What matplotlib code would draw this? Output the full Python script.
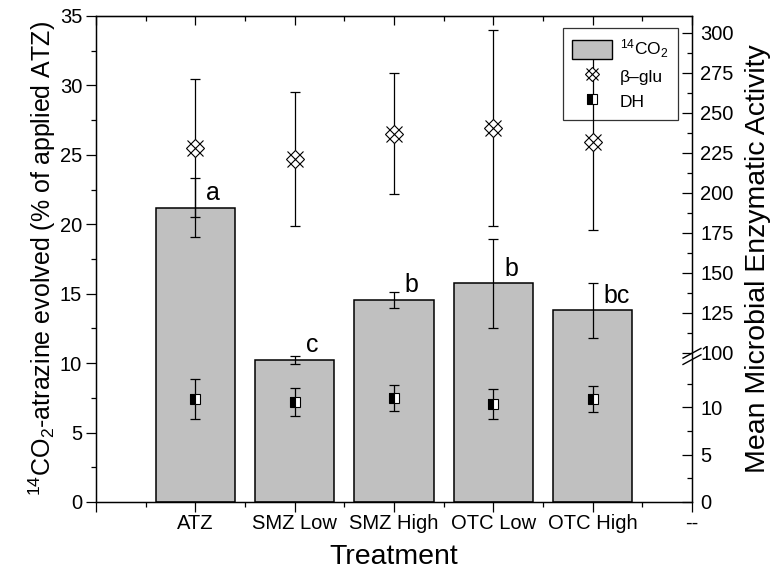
import matplotlib
matplotlib.use("Agg")
import matplotlib.pyplot as plt
import numpy as np
from matplotlib.legend_handler import HandlerTuple
from matplotlib.lines import Line2D
from matplotlib.patches import Patch

# data
treatments = ["ATZ", "SMZ Low", "SMZ High", "OTC Low", "OTC High"]
co2 = [21.2, 10.23, 14.55, 15.75, 13.8]
co2_err = [2.14, 0.28, 0.58, 3.22, 2.0]
letters = ["a", "c", "b", "b", "bc"]
bglu = [228, 221, 237, 240.5, 231.5]
bglu_err = [43, 42, 37.5, 61, 54.5]
dh = [10.87, 10.55, 10.97, 10.37, 10.87]
dh_err = [2.1, 1.47, 1.35, 1.6, 1.4]

plt.rcParams["font.family"] = ["Liberation Sans", "DejaVu Sans"]
plt.rcParams["mathtext.fontset"] = "custom"
plt.rcParams["mathtext.rm"] = "Liberation Sans"
plt.rcParams["mathtext.it"] = "Liberation Sans:italic"

fsz = 14.5

# broken right scale: 0-15 low part, 100-310 upper part
rk = [0, 15, 100, 310.37]
lk = [0, 10.22, 10.73, 35]
def fwd(v):
    return np.interp(v, rk, lk)
def inv(v):
    return np.interp(v, lk, rk)


fig = plt.figure(figsize=(7.74, 5.81), dpi=100, facecolor="w")
ax = fig.add_axes([0.124, 0.136, 0.77, 0.8365])
x = np.arange(1, len(treatments) + 1)

ax.bar(x, co2, width=0.8, color="#c0c0c0", edgecolor="black", lw=1.1, zorder=2)
ax.errorbar(x, co2, yerr=co2_err, fmt="none", ecolor="black", elinewidth=0.9,
            capsize=3.7, capthick=0.9, zorder=3)
for xi, yi, t in zip(x, co2, letters):
    ax.annotate(t, (xi + 0.11, yi), xytext=(0, 2), textcoords="offset points",
                ha="left", va="bottom", fontsize=18)

ax.set_xlim(0, 6)
ax.set_ylim(0, 35)
ax.set_xticks(np.arange(0, 7))
ax.set_xticklabels([""] + treatments + ["--"], fontsize=fsz)
ax.set_xticks(np.arange(0.5, 6, 1), minor=True)
ax.set_yticks(np.arange(0, 36, 5))
ax.set_yticks(np.arange(2.5, 35, 5), minor=True)
ax.tick_params(axis="both", which="major", direction="out", length=7, width=0.9, labelsize=fsz)
ax.tick_params(axis="both", which="minor", direction="out", length=3.8, width=0.9)
ax.tick_params(axis="x", pad=1.5)
ax.tick_params(axis="y", pad=3)
for s in ax.spines.values():
    s.set_linewidth(1.0)

top = ax.secondary_xaxis("top")
top.set_xticks(np.arange(0, 7))
top.set_xticks(np.arange(0.5, 6, 1), minor=True)
top.tick_params(which="major", direction="in", length=6.5, width=0.9, labeltop=False)
top.tick_params(which="minor", direction="in", length=3.8, width=0.9)

ax.set_xlabel("Treatment", fontsize=20.5, labelpad=8)
ax.set_ylabel(r"$^{14}$CO$_2$-atrazine evolved (% of applied ATZ)", fontsize=18, labelpad=1)

ax2 = ax.twinx()
ax2.set_yscale("function", functions=(fwd, inv))
ax2.set_ylim(0, 310.37)
rticks = [0, 5, 10] + list(range(100, 301, 25))
ax2.set_yticks(rticks)
ax2.set_yticks([2.5, 7.5, 12.5] + list(np.arange(112.5, 300, 25)), minor=True)
ax2.set_yticklabels([str(v) for v in rticks])
ax2.tick_params(axis="y", which="major", direction="in", length=7, width=0.9, labelsize=fsz, pad=6)
ax2.tick_params(axis="y", which="minor", direction="in", length=3.8, width=0.9)
ax2.set_ylabel("Mean Microbial Enzymatic Activity", fontsize=20.5, labelpad=8)

ax2.errorbar(x, bglu, yerr=bglu_err, fmt="none", ecolor="black", elinewidth=0.9,
             capsize=3.7, capthick=0.9)
ax2.plot(x, bglu, ls="none", marker="D", ms=9, mfc="white", mec="black", mew=0.8)
ax2.plot(x, bglu, ls="none", marker="x", ms=11.5, mec="black", mew=0.8)
ax2.errorbar(x, dh, yerr=dh_err, fmt="none", ecolor="black", elinewidth=0.9,
             capsize=3.7, capthick=0.9)
ax2.plot(x, dh, ls="none", marker="s", ms=7.5, mfc="black", mfcalt="white",
         fillstyle="left", mec="black", mew=0.8)

# axis break marks
for yb in (0.293, 0.306):
    ax2.plot([0.985, 1.015], [yb - 0.01, yb + 0.01], transform=ax2.transAxes,
             color="black", lw=1.0, clip_on=False)

h1 = Patch(facecolor="#c0c0c0", edgecolor="black", lw=1.0)
h2 = (Line2D([], [], ls="none", marker="D", ms=7, mfc="white", mec="black", mew=0.8),
      Line2D([], [], ls="none", marker="x", ms=9, mec="black", mew=0.8))
h3 = Line2D([], [], ls="none", marker="s", ms=7, mfc="black", mfcalt="white",
            fillstyle="left", mec="black", mew=0.8)
leg = ax2.legend([h1, h2, h3], [r"$^{14}$CO$_2$", "β–glu", "DH"],
                 loc="upper right", bbox_to_anchor=(0.9765, 0.975), borderaxespad=0,
                 fontsize=12.5, handlelength=2.3, handleheight=1.3, handletextpad=0.45,
                 labelspacing=0.35, borderpad=0.55, fancybox=False, edgecolor="black",
                 numpoints=1, handler_map={tuple: HandlerTuple(ndivide=1)})
leg.get_frame().set_facecolor("none")
leg.get_frame().set_linewidth(0.9)

plt.savefig("out.png", dpi=100)
